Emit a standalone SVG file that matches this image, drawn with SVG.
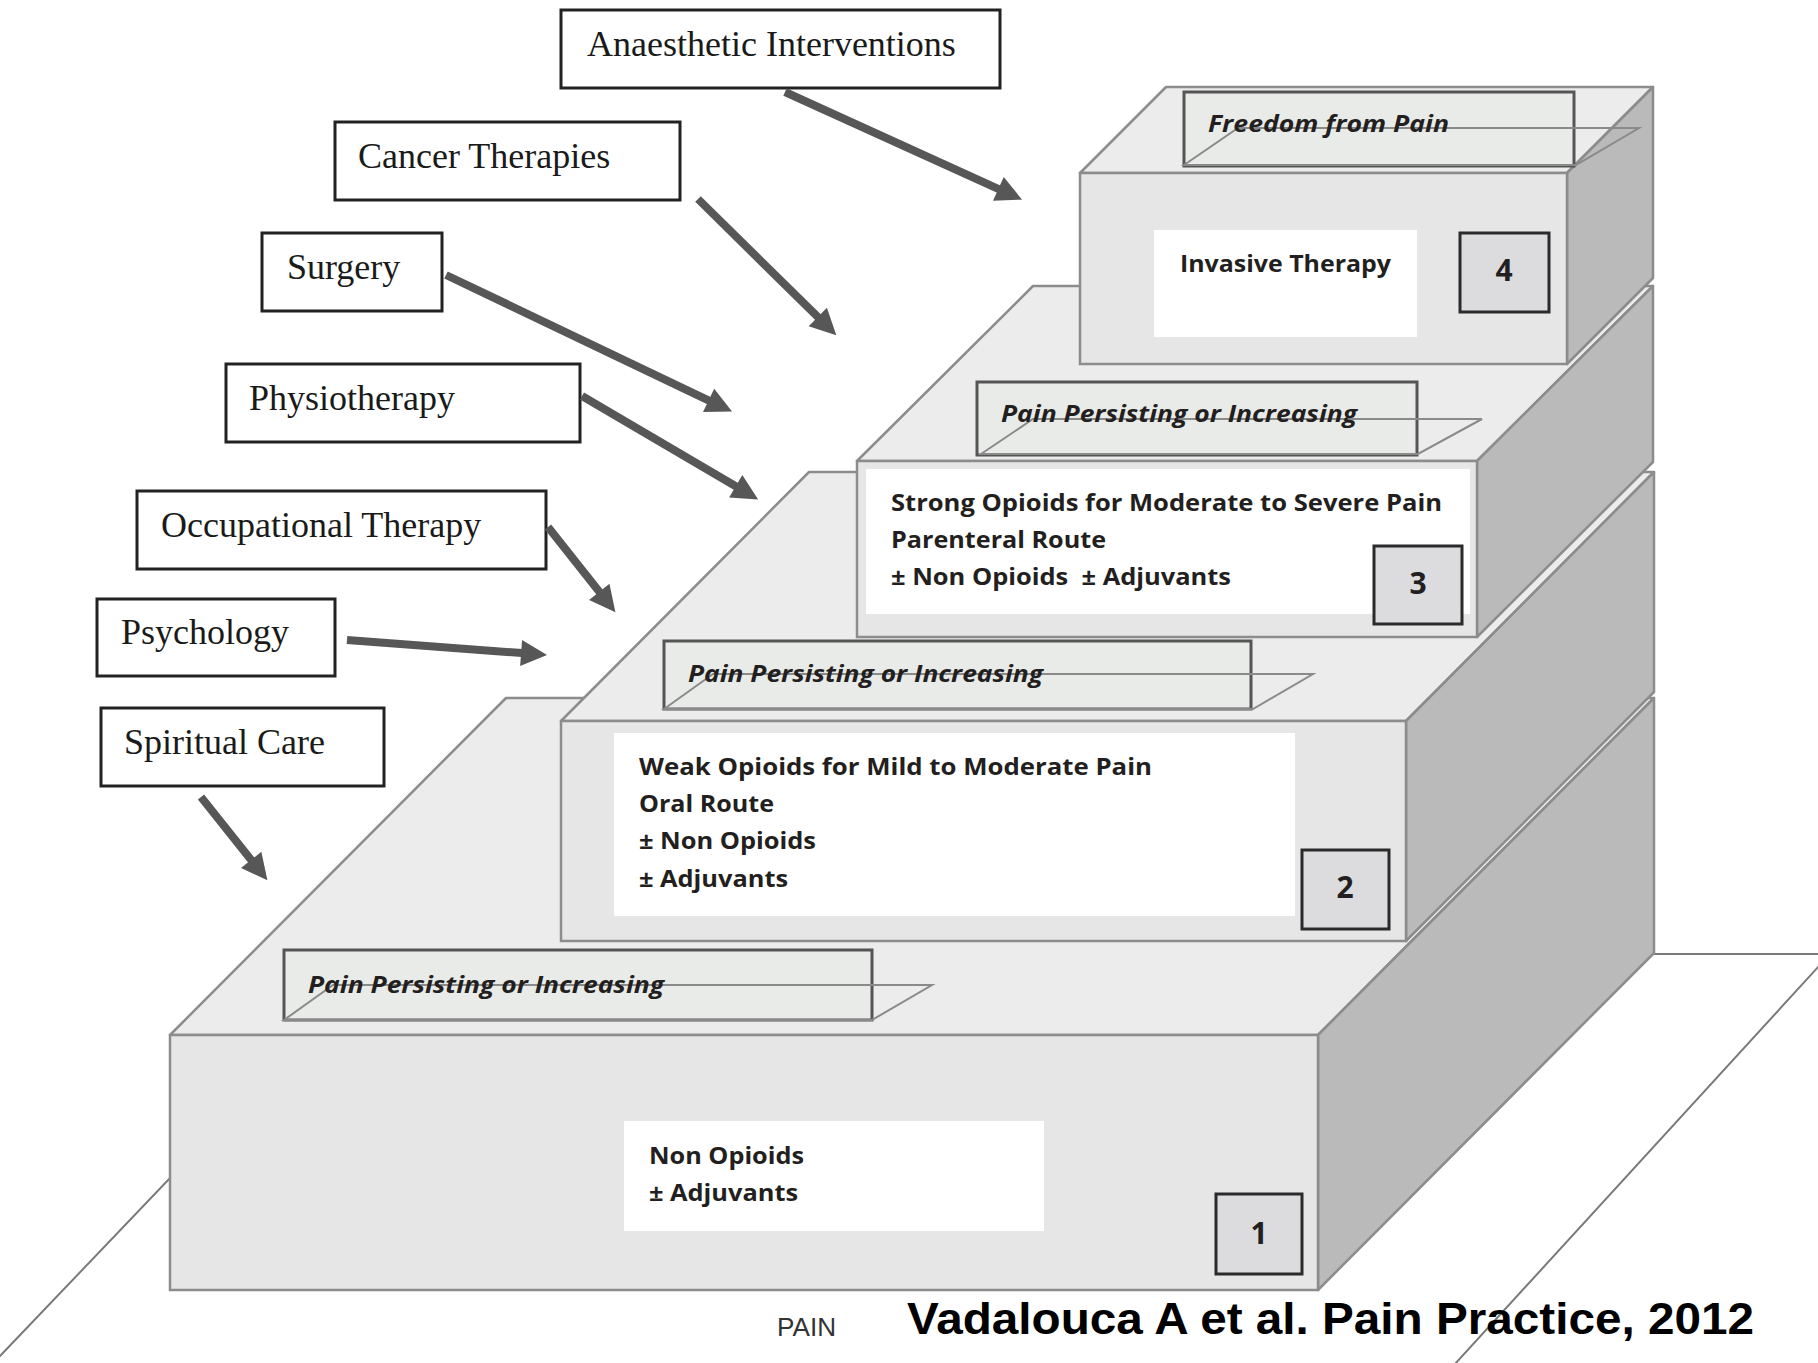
<svg xmlns="http://www.w3.org/2000/svg" width="1818" height="1363" viewBox="0 0 1818 1363">
<style>
.lbl rect{fill:#fff;stroke:#222;stroke-width:3}
.lbl text{font-family:"Liberation Serif","Times New Roman",serif;font-size:36px;fill:#1a1a1a}
.top{fill:#ececec;stroke:#8c8c8c;stroke-width:2.5;stroke-linejoin:round}
.side{fill:#bababb;stroke:#8c8c8c;stroke-width:2.5;stroke-linejoin:round}
.front{fill:#e6e6e6;stroke:#8c8c8c;stroke-width:2.5}
.wbox{fill:#fff}
.num rect{fill:#dcdcde;stroke:#2a2a2a;stroke-width:3}
.num text{font-family:"Open Sans","Noto Sans",sans-serif;font-weight:700;font-size:30px;fill:#231f20;text-anchor:middle}
.st{font-family:"Open Sans","Noto Sans",sans-serif;font-weight:700;font-size:24px;fill:#231f20}
.pp rect{fill:#e9ebe9;stroke:#555;stroke-width:3}
.pp polygon{fill:none;stroke:#8a8a8a;stroke-width:2}
.pp text{font-family:"Open Sans","Noto Sans",sans-serif;font-weight:700;font-style:italic;font-size:24px;fill:#231f20}
.arr line{stroke:#575757;stroke-width:8}
</style>
<defs>
<marker id="ah" markerUnits="userSpaceOnUse" viewBox="0 -14 27 28" markerWidth="27" markerHeight="28" refX="1" refY="0" orient="auto" overflow="visible">
<path d="M0,-13 L26,0 L0,13 z" fill="#575757"/>
</marker>
</defs>
<rect width="1818" height="1363" fill="#fff"/>
<g id="floor">
<polygon points="384,954 1818,954 1830,954 1422,1400 -42,1400" fill="#fff" stroke="#7a7a7a" stroke-width="2"/>
</g>
<g id="step1">
<polygon class="top" points="170,1035 506,698 1654,698 1318,1035"/>
<polygon class="side" points="1318,1035 1654,698 1654,953 1318,1290"/>
<rect class="front" x="170" y="1035" width="1148" height="255"/>
<rect class="wbox" x="624" y="1121" width="420" height="110"/>
<text class="st" x="649" y="1164" textLength="155" lengthAdjust="spacingAndGlyphs">Non Opioids</text>
<text class="st" x="649" y="1201" textLength="149" lengthAdjust="spacingAndGlyphs">± Adjuvants</text>
<g class="num"><rect x="1216" y="1194" width="86" height="80"/><text x="1259" y="1244">1</text></g>
</g>
<g id="pp1" class="pp">
<rect x="284" y="950" width="588" height="70"/>
<polygon points="284,1020 333,985 932,985 872,1020"/>
<text x="308" y="993" textLength="356" lengthAdjust="spacingAndGlyphs">Pain Persisting or Increasing</text>
</g>
<g id="step2">
<polygon class="top" points="561,721 809,472 1654,472 1406,721"/>
<polygon class="side" points="1406,721 1654,472 1654,692 1406,941"/>
<rect class="front" x="561" y="721" width="845" height="220"/>
<rect class="wbox" x="614" y="733" width="681" height="183"/>
<text class="st" x="639" y="775" textLength="513" lengthAdjust="spacingAndGlyphs">Weak Opioids for Mild to Moderate Pain</text>
<text class="st" x="639" y="812" textLength="135" lengthAdjust="spacingAndGlyphs">Oral Route</text>
<text class="st" x="639" y="849" textLength="177" lengthAdjust="spacingAndGlyphs">± Non Opioids</text>
<text class="st" x="639" y="887" textLength="149" lengthAdjust="spacingAndGlyphs">± Adjuvants</text>
<g class="num"><rect x="1302" y="850" width="87" height="79"/><text x="1345" y="898">2</text></g>
</g>
<g id="pp2" class="pp">
<rect x="664" y="641" width="587" height="68"/>
<polygon points="664,709 713,674 1313,674 1253,709"/>
<text x="688" y="682" textLength="355" lengthAdjust="spacingAndGlyphs">Pain Persisting or Increasing</text>
</g>
<g id="step3">
<polygon class="top" points="857,461 1033,286 1653,286 1477,461"/>
<polygon class="side" points="1477,461 1653,286 1653,462 1477,637"/>
<rect class="front" x="857" y="461" width="620" height="176"/>
<rect class="wbox" x="866" y="469" width="604" height="145"/>
<text class="st" x="891" y="511" textLength="551" lengthAdjust="spacingAndGlyphs">Strong Opioids for Moderate to Severe Pain</text>
<text class="st" x="891" y="548" textLength="215" lengthAdjust="spacingAndGlyphs">Parenteral Route</text>
<text class="st" x="891" y="585" textLength="340" lengthAdjust="spacingAndGlyphs" xml:space="preserve">± Non Opioids  ± Adjuvants</text>
<g class="num"><rect x="1374" y="546" width="88" height="78"/><text x="1418" y="594">3</text></g>
</g>
<g id="pp3" class="pp">
<rect x="977" y="382" width="440" height="73"/>
<polygon points="981,454 1033,419 1482,419 1418,454"/>
<text x="1001" y="422" textLength="356" lengthAdjust="spacingAndGlyphs">Pain Persisting or Increasing</text>
</g>
<g id="step4">
<polygon class="top" points="1080,173 1166,87 1653,87 1567,173"/>
<polygon class="side" points="1567,173 1653,87 1653,278 1567,364"/>
<rect class="front" x="1080" y="173" width="487" height="191"/>
<rect class="wbox" x="1154" y="230" width="263" height="107"/>
<text class="st" x="1180" y="272" textLength="211" lengthAdjust="spacingAndGlyphs">Invasive Therapy</text>
<g class="num"><rect x="1460" y="233" width="89" height="79"/><text x="1504" y="281">4</text></g>
</g>
<g id="freedom" class="pp">
<rect x="1184" y="92" width="390" height="74"/>
<polygon points="1184,165 1238,128 1639,128 1576,165"/>
<text x="1208" y="132" textLength="241" lengthAdjust="spacingAndGlyphs">Freedom from Pain</text>
</g>
<g id="anaesthetic" class="lbl"><rect x="561" y="10" width="439" height="78"/><text x="587" y="56">Anaesthetic Interventions</text></g>
<g id="cancer" class="lbl"><rect x="335" y="122" width="345" height="78"/><text x="358" y="168">Cancer Therapies</text></g>
<g id="surgery" class="lbl"><rect x="262" y="233" width="180" height="78"/><text x="287" y="279">Surgery</text></g>
<g id="physio" class="lbl"><rect x="226" y="364" width="354" height="78"/><text x="249" y="410">Physiotherapy</text></g>
<g id="occupational" class="lbl"><rect x="137" y="491" width="409" height="78"/><text x="161" y="537">Occupational Therapy</text></g>
<g id="psychology" class="lbl"><rect x="97" y="599" width="238" height="77"/><text x="121" y="644">Psychology</text></g>
<g id="spiritual" class="lbl"><rect x="101" y="708" width="283" height="78"/><text x="124" y="754">Spiritual Care</text></g>
<g id="connectors" class="arr">
<line x1="785" y1="92" x2="999.3" y2="189.3" marker-end="url(#ah)"/>
<line x1="698" y1="199" x2="818.5" y2="317.7" marker-end="url(#ah)"/>
<line x1="446" y1="275" x2="709.5" y2="400.8" marker-end="url(#ah)"/>
<line x1="582" y1="396" x2="736.6" y2="486.8" marker-end="url(#ah)"/>
<line x1="548" y1="527" x2="599.9" y2="592.6" marker-end="url(#ah)"/>
<line x1="347" y1="640" x2="522.1" y2="653.1" marker-end="url(#ah)"/>
<line x1="201" y1="797" x2="251.8" y2="860.7" marker-end="url(#ah)"/>
</g>
<text x="777" y="1336" font-family="Liberation Sans, Arial, sans-serif" font-size="25" fill="#333" textLength="59" lengthAdjust="spacingAndGlyphs">PAIN</text>
<text x="907" y="1334" font-family="Liberation Sans, Arial, sans-serif" font-weight="700" font-size="45" fill="#000" textLength="847" lengthAdjust="spacingAndGlyphs">Vadalouca A et al. Pain Practice, 2012</text>
</svg>
